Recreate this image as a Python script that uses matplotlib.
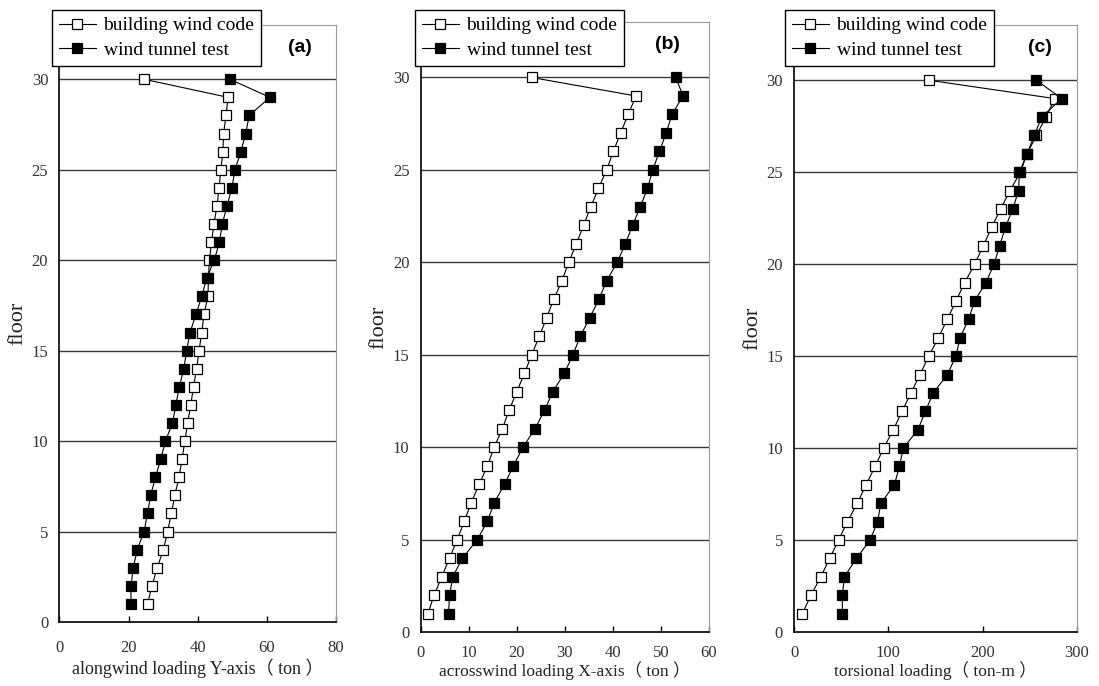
import matplotlib.pyplot as plt

floors = list(range(1, 31))

# alongwind loading Y-axis (ton)
a_code = [25.5, 26.8, 28.3, 30.1, 31.3, 32.4, 33.4, 34.6, 35.5, 36.3,
          37.1, 38.0, 38.8, 39.7, 40.4, 41.2, 41.8, 43.0, 43.1, 43.4,
          44.0, 44.7, 45.6, 46.2, 46.7, 47.3, 47.5, 48.2, 48.8, 24.5]
a_tunnel = [20.7, 20.7, 21.4, 22.5, 24.5, 25.5, 26.4, 27.8, 29.3, 30.7,
            32.7, 33.7, 34.7, 36.0, 36.8, 37.8, 39.5, 41.2, 42.6, 44.8,
            46.3, 47.1, 48.5, 49.9, 50.8, 52.5, 53.9, 54.9, 60.9, 49.3]

# acrosswind loading X-axis (ton)
b_code = [1.5, 2.8, 4.4, 6.0, 7.6, 9.1, 10.5, 12.2, 13.9, 15.3,
          17.0, 18.4, 20.0, 21.6, 23.1, 24.7, 26.2, 27.7, 29.4, 30.8,
          32.4, 33.9, 35.4, 37.0, 38.7, 40.1, 41.6, 43.2, 44.8, 23.1]
b_tunnel = [5.8, 6.0, 6.7, 8.7, 11.8, 13.9, 15.3, 17.5, 19.3, 21.3,
            23.8, 25.8, 27.5, 29.9, 31.7, 33.2, 35.2, 37.1, 38.7, 40.9,
            42.6, 44.1, 45.7, 47.2, 48.3, 49.7, 51.1, 52.3, 54.6, 53.1]

# torsional loading (ton-m)
c_code = [8.8, 18.0, 28.3, 37.8, 47.3, 56.5, 67.1, 76.3, 85.9, 95.0,
          105.3, 114.5, 124.0, 133.6, 142.8, 153.0, 162.5, 171.7, 181.0, 191.5,
          200.7, 209.5, 219.0, 229.0, 240.0, 247.0, 257.0, 267.0, 276.7, 143.0]
c_tunnel = [51.2, 51.2, 53.4, 66.1, 80.6, 88.7, 91.9, 106.4, 111.7, 115.9,
            131.4, 139.2, 147.7, 162.5, 171.7, 176.0, 185.0, 191.5, 203.5, 212.0,
            218.0, 224.0, 232.0, 238.0, 239.0, 247.0, 254.8, 262.5, 283.7, 257.0]

series_names = ['building wind code', 'wind tunnel test']
panel_tags = ['(a)', '(b)', '(c)']
x_labels = ['alongwind loading Y-axis（ ton ）',
            'acrosswind loading X-axis（ ton ）',
            'torsional loading（ ton-m ）']
x_limits = [(0, 80), (0, 60), (0, 300)]
x_steps = [20, 10, 100]

serif = ['Liberation Serif', 'Noto Sans CJK TC', 'DejaVu Serif']
plt.rcParams['font.family'] = serif

fig = plt.figure(figsize=(10.99, 6.86), dpi=100)

# axes boxes in figure fractions
boxes = [[0.054, 0.0933, 0.2517, 0.8703],
         [0.3828, 0.0787, 0.2623, 0.8892],
         [0.7225, 0.0787, 0.2575, 0.8848]]
legend_corners = [(0.0473, 0.9854), (0.3776, 0.9854), (0.7143, 0.9854)]
tag_x = [0.87, 0.857, 0.869]
tick_pads = [13, 9.5, 9.5]
label_pads = [2, 0, 0]
label_sizes = [13, 12.5, 12.5]

data = [(a_code, a_tunnel), (b_code, b_tunnel), (c_code, c_tunnel)]

for i in range(3):
    ax = fig.add_axes(boxes[i])
    code, tunnel = data[i]

    ax.plot(code, floors, color='black', lw=0.8, marker='s', markersize=7,
            markerfacecolor='white', markeredgecolor='black', markeredgewidth=0.9,
            label=series_names[0], zorder=3)
    ax.plot(tunnel, floors, color='black', lw=0.8, marker='s', markersize=7,
            markerfacecolor='black', markeredgecolor='black', markeredgewidth=0.9,
            label=series_names[1], zorder=4)

    ax.set_xlim(*x_limits[i])
    ax.set_ylim(0, 33)
    ax.set_xticks(range(x_limits[i][0], x_limits[i][1] + 1, x_steps[i]))
    ax.set_yticks(range(0, 31, 5))

    for y in range(5, 31, 5):
        ax.axhline(y, color='#3a3a3a', lw=1.0, zorder=1)

    ax.spines['left'].set_color('black')
    ax.spines['bottom'].set_color('black')
    ax.spines['left'].set_linewidth(1.2)
    ax.spines['bottom'].set_linewidth(1.2)
    ax.spines['top'].set_color('#9a9a9a')
    ax.spines['right'].set_color('#9a9a9a')

    ax.tick_params(axis='x', direction='in', length=4, width=1, pad=tick_pads[i],
                   labelsize=12, labelcolor='#333333')
    ax.tick_params(axis='y', direction='in', length=0, pad=8,
                   labelsize=12, labelcolor='#333333')

    ax.set_xlabel(x_labels[i], fontsize=label_sizes[i], labelpad=label_pads[i],
                  color='#222222')
    ax.set_ylabel('floor', fontsize=16, labelpad=3, color='#222222')

    ax.text(tag_x[i], 0.963, panel_tags[i], transform=ax.transAxes,
            fontsize=14, fontweight='bold', family='Liberation Sans',
            ha='center', va='center', zorder=6)

    leg = ax.legend(loc='upper left', bbox_to_anchor=legend_corners[i],
                    bbox_transform=fig.transFigure, fontsize=14,
                    frameon=True, fancybox=False, framealpha=1,
                    edgecolor='black', borderpad=0.35, labelspacing=0.35,
                    handlelength=1.9, handletextpad=0.4, borderaxespad=0)
    leg.get_frame().set_linewidth(1.0)
    leg.set_zorder(10)

fig.savefig('out.png', dpi=100)
